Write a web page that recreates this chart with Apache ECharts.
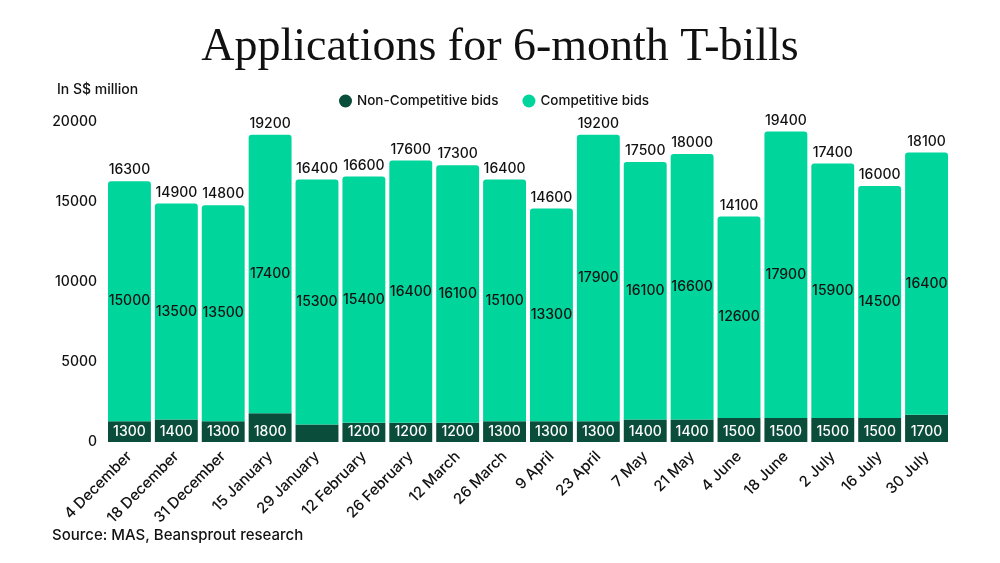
<!DOCTYPE html>
<html>
<head>
<meta charset="utf-8">
<script src="https://cdn.jsdelivr.net/npm/echarts@6/dist/echarts.min.js"></script>
<style>
	html, body { margin: 0; padding: 0; background: #fff; }
	#chart { width: 1000px; height: 563px; }
</style>
</head>
<body>
<div id="chart"></div>
<script>
const categories = ['4 December', '18 December', '31 December', '15 January', '29 January', '12 February', '26 February', '12 March', '26 March', '9 April', '23 April', '7 May', '21 May', '4 June', '18 June', '2 July', '16 July', '30 July'];
const nonCompetitive = [1300, 1400, 1300, 1800, 1100, 1200, 1200, 1200, 1300, 1300, 1300, 1400, 1400, 1500, 1500, 1500, 1500, 1700];
const competitive = [15000, 13500, 13500, 17400, 15300, 15400, 16400, 16100, 15100, 13300, 17900, 16100, 16600, 12600, 17900, 15900, 14500, 16400];
const totals = [16300, 14900, 14800, 19200, 16400, 16600, 17600, 17300, 16400, 14600, 19200, 17500, 18000, 14100, 19400, 17400, 16000, 18100];
// 29 January has no label on the dark segment
const hiddenLabels = ['29 January'];

const sans = 'Inter';
const ink = '#111111';
const chart = echarts.init(document.getElementById('chart'));

chart.setOption({
	backgroundColor: '#ffffff',
	animation: false,
	title: [
		{
			text: 'Applications for 6-month T-bills',
			left: 'center',
			top: 20,
			textStyle: {
				fontFamily: 'Liberation Serif',
				fontWeight: 'normal',
				fontSize: 46,
				color: ink
			}
		},
		{
			text: 'In S$ million',
			left: 57,
			top: 83,
			padding: 0,
			textStyle: { fontFamily: sans, fontWeight: 500, fontSize: 14, color: ink }
		},
		{
			text: 'Source: MAS, Beansprout research',
			left: 52,
			top: 528,
			padding: 0,
			textStyle: { fontFamily: sans, fontWeight: 500, fontSize: 15, color: ink }
		}
	],
	legend: {
		top: 89,
		left: 334,
		icon: 'circle',
		itemWidth: 13,
		itemHeight: 13,
		itemGap: 24,
		data: ['Non-Competitive bids', 'Competitive bids'],
		textStyle: { fontFamily: sans, fontWeight: 500, fontSize: 13.5, color: ink }
	},
	grid: {
		left: 106,
		right: 50,
		top: 122,
		bottom: 121
	},
	xAxis: {
		type: 'category',
		data: categories,
		axisLine: { show: false },
		axisTick: { show: false },
		axisLabel: {
			rotate: 45,
			interval: 0,
			margin: 12,
			fontFamily: sans,
			fontWeight: 500,
			fontSize: 15,
			color: ink
		}
	},
	yAxis: {
		type: 'value',
		min: 0,
		max: 20000,
		interval: 5000,
		splitLine: { show: false },
		axisLine: { show: false },
		axisTick: { show: false },
		axisLabel: {
			margin: 9,
			formatter: v => String(v),
			fontFamily: sans,
			fontWeight: 500,
			fontSize: 14,
			color: ink
		}
	},
	series: [
		{
			name: 'Total',
			type: 'bar',
			data: totals,
			barWidth: '91.5%',
			barGap: '-100%',
			z: 1,
			silent: true,
			itemStyle: { color: 'rgba(0,0,0,0)' },
			label: {
				show: true,
				position: 'top',
				distance: 4,
				fontFamily: sans,
				fontWeight: 500,
				fontSize: 14,
				color: ink
			}
		},
		{
			name: 'Non-Competitive bids',
			type: 'bar',
			stack: 'bids',
			data: nonCompetitive.map((v, i) => ({
				value: v,
				label: { show: !hiddenLabels.includes(categories[i]) }
			})),
			barWidth: '91.5%',
			z: 2,
			itemStyle: { color: '#0b4d3b' },
			label: {
				show: true,
				position: 'insideBottom',
				distance: 3,
				fontFamily: sans,
				fontWeight: 500,
				fontSize: 14,
				color: '#ffffff'
			}
		},
		{
			name: 'Competitive bids',
			type: 'bar',
			stack: 'bids',
			data: competitive,
			barWidth: '91.5%',
			z: 2,
			itemStyle: { color: '#00d59c', borderRadius: [3, 3, 0, 0] },
			label: {
				show: true,
				position: 'inside',
				fontFamily: sans,
				fontWeight: 500,
				fontSize: 14,
				color: ink
			}
		}
	]
});
</script>
</body>
</html>
